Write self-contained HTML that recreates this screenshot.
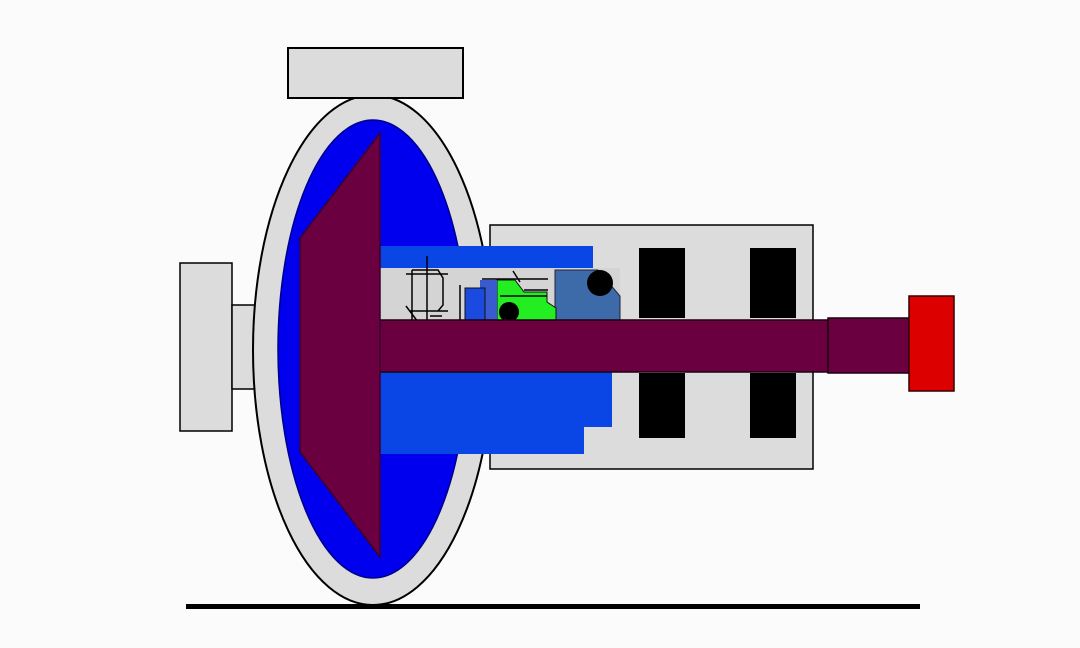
<!DOCTYPE html><html><head><style>html,body{margin:0;padding:0;background:#fbfbfb;}svg{display:block}</style></head><body>
<svg width="1080" height="648" viewBox="0 0 1080 648" xmlns="http://www.w3.org/2000/svg">
<rect width="1080" height="648" fill="#fbfbfb"/>
<rect x="180" y="263" width="52" height="168" fill="#dcdcdc" stroke="#000" stroke-width="1.5"/>
<rect x="232" y="305" width="25" height="84" fill="#dcdcdc" stroke="#000" stroke-width="1.5"/>
<rect x="490" y="225" width="323" height="244" fill="#dcdcdc" stroke="#000" stroke-width="1.5"/>
<ellipse cx="373" cy="350" rx="120" ry="255" fill="#dcdcdc" stroke="#000" stroke-width="2"/>
<rect x="288" y="48" width="175" height="50" fill="#dcdcdc" stroke="#000" stroke-width="2"/>
<ellipse cx="373" cy="349" rx="95" ry="229" fill="#0000ee" stroke="#00008a" stroke-width="1.5"/>
<path d="M380 246 H593 V268 H380 Z" fill="#0a45e6"/>
<path d="M380 371 H612 V427 H584 V454 H380 Z" fill="#0a45e6"/>
<rect x="380" y="268" width="240" height="53" fill="#d4d4d4"/>
<path d="M555 270 H598 L620 296 V320 H555 Z" fill="#3d6aa8" stroke="#223" stroke-width="1"/>
<circle cx="600" cy="283" r="13" fill="#000"/>
<path d="M497 280 H515 L524 292 H547 V302 L556 308 V320 H497 Z" fill="#22ee22" stroke="#111" stroke-width="1"/>
<path d="M480 280 H497 V320 H480 Z" fill="#3a5ad0"/>
<rect x="465" y="288" width="20" height="32" fill="#1a4ae0" stroke="#111"/>
<circle cx="509" cy="312" r="10" fill="#000"/>
<g stroke="#000" stroke-width="1.5" fill="none">
<path d="M412 270 V325 M427 256 V335 M406 274 H448 M410 311 H448 M412 270 L438 270 L443 278 V305 L438 311 M406 306 L418 322 M430 316 L442 316"/>
<path d="M460 285 V320 M500 296 L547 296 M482 279 H548 M513 271 L520 282 M524 290 L548 290"/>
</g>
<path d="M380 320 H828 V372 H380 Z" fill="#6a0040" stroke="#1a0010" stroke-width="1.5"/>
<rect x="828" y="318" width="81" height="55" fill="#6a0040" stroke="#1a0010" stroke-width="1.5"/>
<rect x="909" y="296" width="45" height="95" fill="#dd0000" stroke="#300" stroke-width="1.5"/>
<polygon points="380,133 300,238 300,452 380,557" fill="#6a0040" stroke="#3a0030" stroke-width="1.5"/>
<rect x="639" y="248" width="46" height="70" fill="#000"/>
<rect x="639" y="373" width="46" height="65" fill="#000"/>
<rect x="750" y="248" width="46" height="70" fill="#000"/>
<rect x="750" y="373" width="46" height="65" fill="#000"/>
<rect x="186" y="604" width="734" height="5" fill="#000"/>
</svg></body></html>
